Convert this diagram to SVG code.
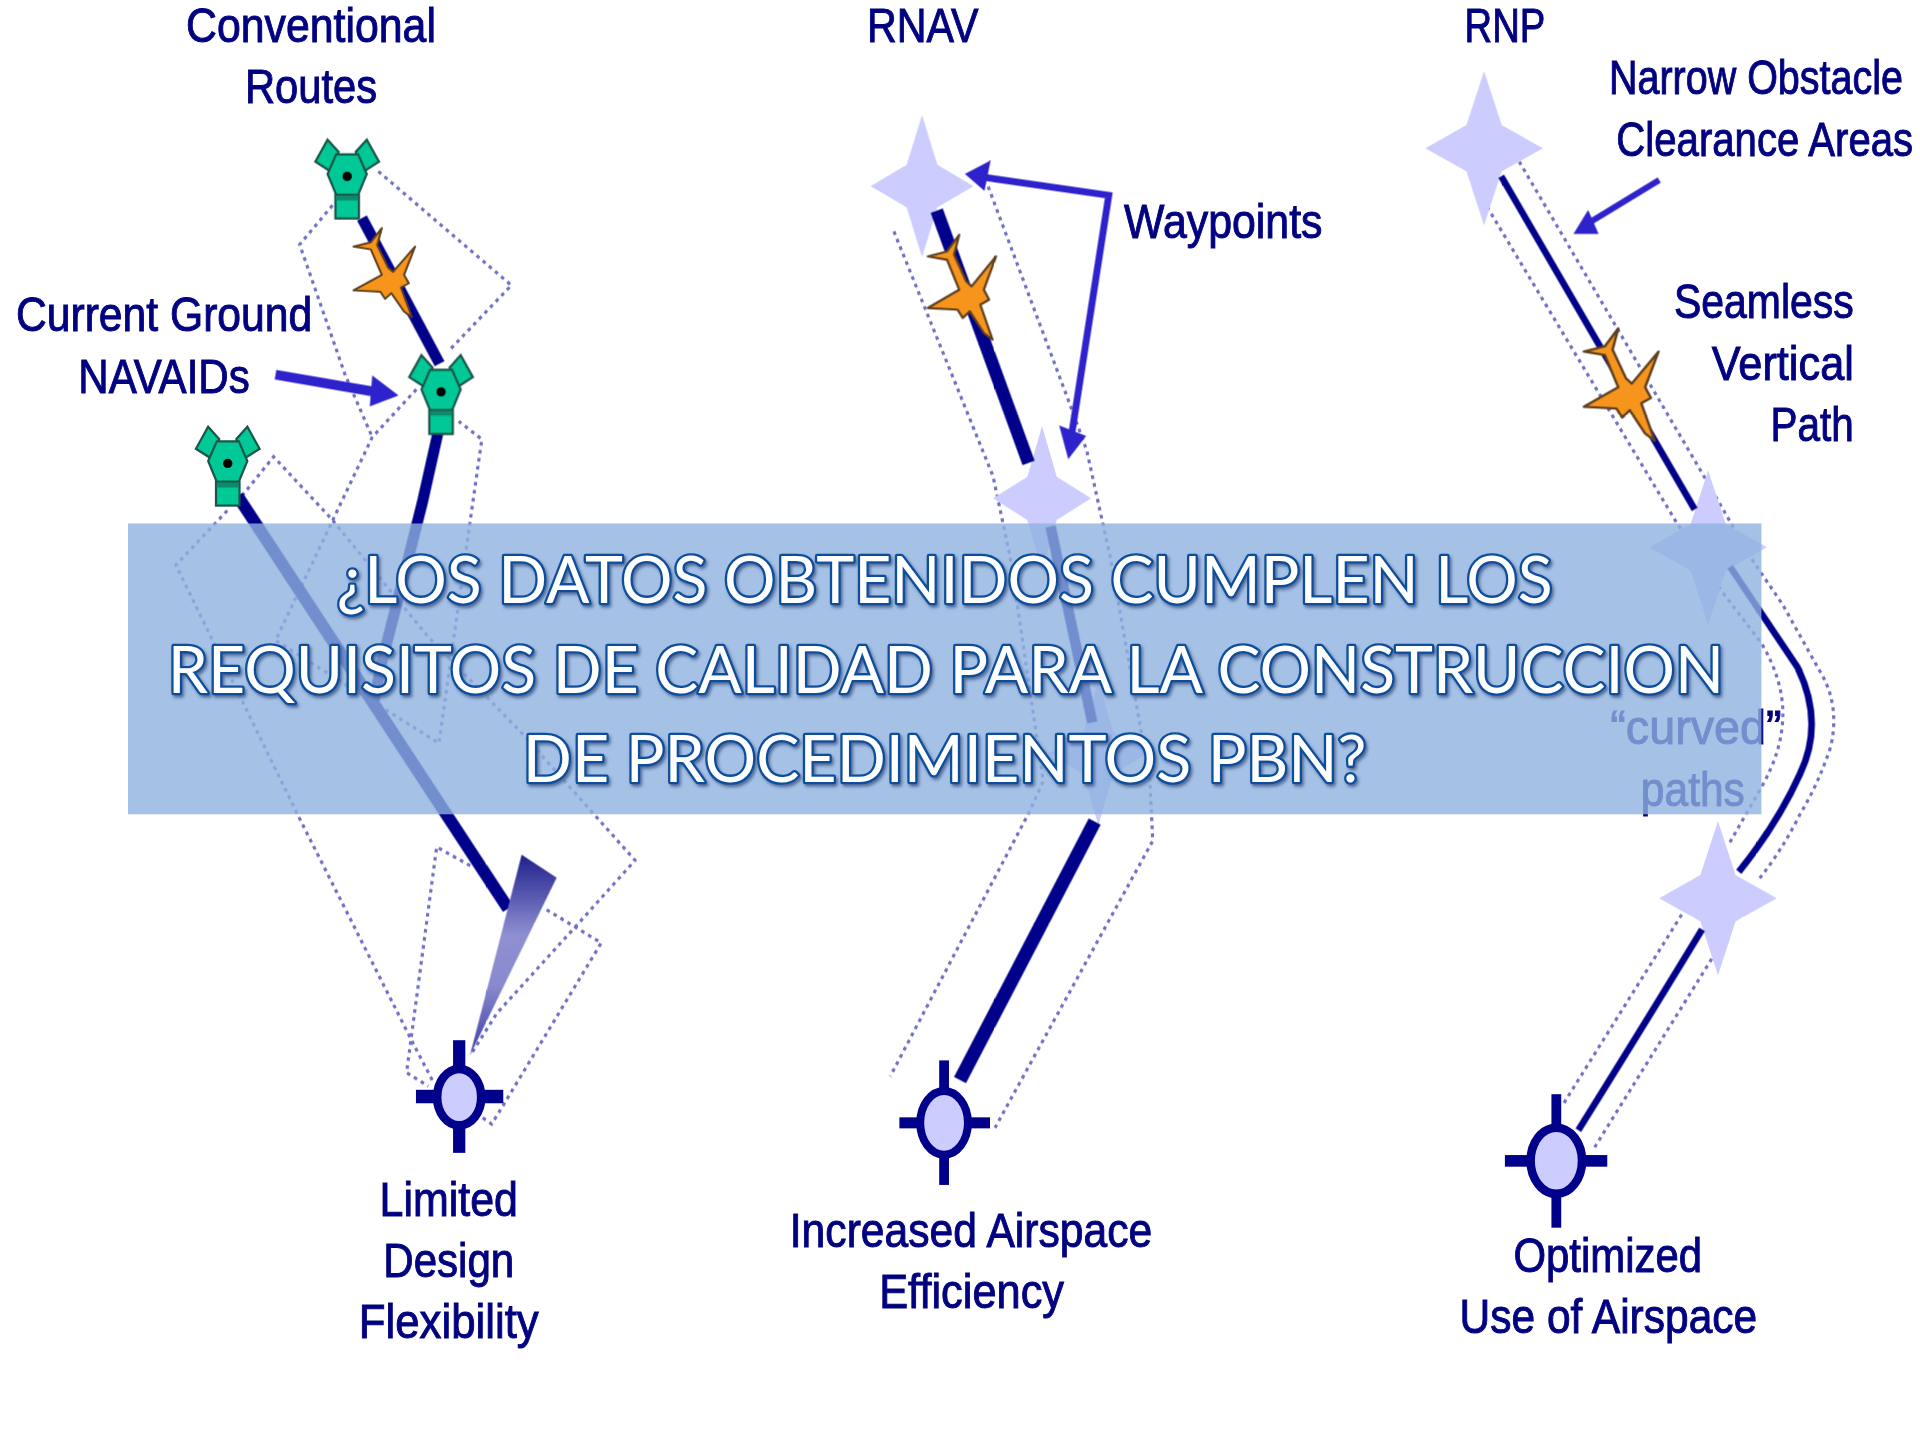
<svg xmlns="http://www.w3.org/2000/svg" xmlns:xlink="http://www.w3.org/1999/xlink" width="1920" height="1440" viewBox="0 0 1920 1440">
<style>
.lbl{font-family:"Liberation Sans",Arial,sans-serif;font-size:40px;fill:#000080;stroke:#000080;stroke-width:.8px}
.ban{font-family:Lato,"Open Sans",sans-serif;font-size:53px;font-weight:400;fill:#fff;stroke:#0b4d9b;stroke-width:3.8px;paint-order:stroke;stroke-linejoin:round;text-anchor:start}
.dot{fill:none;stroke:#6f6fc4;stroke-width:2.6;stroke-dasharray:3 3.6}
.trk{fill:none;stroke:#00008b}
.arw{fill:none;stroke:#2f24cc;stroke-linejoin:miter}
.arh{fill:#2f24cc}
.star{fill:#ccccff}
.apt{fill:#ccccff;stroke:#00008b}
.arm{fill:#00008b}
.g{fill:#00c896;stroke:#1a5548;stroke-width:1.8}
.p{fill:#f7941e;stroke:#5e4020;stroke-width:1.8;stroke-linejoin:round}
</style>
<defs>
<g id="nav">
<polygon class="g" points="-16,-30 -7,-20 -12,-3 -26,-12"/>
<polygon class="g" points="16,-30 7,-20 12,-3 26,-12"/>
<polygon class="g" points="-9,-18 9,-18 16,-2 9,15 -9,15 -16,-2"/>
<rect class="g" x="-9.6" y="15" width="19.2" height="19.4"/>
<rect x="-9" y="15.6" width="18" height="4" fill="#0a8a6c"/>
<circle r="3.8" fill="#000"/>
</g>
<polygon id="pln" class="p" points="-8.2,-50.3 -12.2,-34 -2.7,-12.2 1.4,-8.2 20.4,-32.6 10.9,-5.4 15,2.7 8.2,6.8 17.7,35.4 10.9,29.9 0,12.2 -5.4,17.7 -9.5,10.9 -32.6,9.5 -8.2,-5.4 -17.7,-29.9 -32.6,-32.6 -17.7,-36.7"/>
<polygon id="st" class="star" points="0,-1 .3,-.3 1,0 .3,.3 0,1 -.3,.3 -1,0 -.3,-.3"/>
<linearGradient id="wg" x1="0" y1="0" x2="0" y2="1">
<stop offset="0" stop-color="#20208c"/><stop offset=".4" stop-color="#8f8fd2"/><stop offset=".65" stop-color="#8a8ace"/><stop offset="1" stop-color="#3c3ca8"/>
</linearGradient>
<filter id="soft" filterUnits="userSpaceOnUse" x="0" y="0" width="1568" height="1176"><feGaussianBlur stdDeviation=".5"/></filter>
<filter id="sh" x="-5%" y="-20%" width="110%" height="140%"><feDropShadow dx="1.5" dy="2" stdDeviation="1.2" flood-color="#24406e" flood-opacity=".65"/></filter>
</defs>
<rect width="1920" height="1440" fill="#fff"/>
<g transform="scale(1.22449)">
<g id="picture" filter="url(#soft)">
<g id="connectors">
<g id="dotted">
<polyline class="dot" points="309,140 417.6,233 366,287"/>
<polyline class="dot" points="271.5,167.7 244.7,199.7 281.8,306 304,357"/>
<polyline class="dot" points="340,318 304,357 225,523 358.5,607 386,411 393.5,358.7 374.6,344"/>
<polyline class="dot" points="197.6,405 223.4,373 270,423 349.6,520 426.4,599 518.6,702.6 471,755.6 405.6,827.7 384,862"/>
<polyline class="dot" points="185.6,417 143.6,461.4 243.9,667 337.6,852.6 354,884"/>
<polyline class="dot" points="384,707 356.6,691.7 337.6,834 332,876 349.7,887"/>
<polyline class="dot" points="446.4,743 491,770 411,902.6 401.5,918 393,912"/>
<polyline class="dot" points="730,189 811,389 825,455 852,638 839.6,665 727,879"/>
<polyline class="dot" points="807,152.4 872.4,326.7 887.4,367.5 906.6,454.6 939,637 941.4,686.6 812.6,921"/>
<path class="dot" d="M1214.5 169L1369 426.5L1407 484L1438.7 525.6Q1456 555 1456 583Q1456 612 1438.7 642.4L1411.5 690"/>
<path class="dot" d="M1240.7 132L1392.4 390.4L1430.5 456.5L1456 494L1490 555Q1502 580 1495 610Q1485 640 1470 665Q1455 695 1435.8 718.7"/>
<polyline class="dot" points="1373.3,747 1276.7,901.6"/>
<polyline class="dot" points="1397.9,783 1301,939"/>
</g>
<g id="stars-under">
<use xlink:href="#st" href="#st" transform="translate(753,152) scale(42,58)"/>
<use xlink:href="#st" href="#st" transform="translate(851,407) scale(40,59)"/>
<use xlink:href="#st" href="#st" transform="translate(897,615) scale(40,59)"/>
<use xlink:href="#st" href="#st" transform="translate(1212,121) scale(48,63)"/>
<use xlink:href="#st" href="#st" transform="translate(1395,447) scale(48,63)"/>
<use xlink:href="#st" href="#st" transform="translate(1403,733.5) scale(48,63)"/>
</g>
<g id="tracks">
<line class="trk" stroke-width="9" x1="295.6" y1="178" x2="359" y2="297"/>
<path class="trk" stroke-width="9" d="M358 352L345 410Q325 490 312 540L305 575"/>
<line class="trk" stroke-width="10" x1="194" y1="405" x2="415" y2="742"/>
<line class="trk" stroke-width="10.5" x1="765" y1="172" x2="840" y2="378"/>
<line class="trk" stroke-width="8.5" x1="858" y1="430" x2="892" y2="590"/>
<line class="trk" stroke-width="11" x1="894" y1="671" x2="784" y2="882"/>
<line class="trk" stroke-width="5.4" x1="1226" y1="144" x2="1384" y2="416"/>
<path class="trk" stroke-width="5.4" d="M1413 463L1468 545Q1490 590 1470 632Q1452 672 1420 712"/>
<path class="trk" stroke-width="5.4" d="M1390 759Q1350 825 1289 923"/>
</g>
<polygon id="wedge" fill="url(#wg)" points="426,698 454.6,716.7 383.8,862"/>
<g id="arrows">
<polyline class="arw" stroke-width="5.6" points="798,144 905.5,159.5 875,356"/>
<polygon class="arh" points="788,142 809,131 804,156"/>
<polygon class="arh" points="872.4,375 865,347.5 887,356"/>
<line class="arw" stroke-width="8" x1="225" y1="306" x2="312" y2="321"/>
<polygon class="arh" points="325.5,323 304,306.5 302,332"/>
<line class="arw" stroke-width="5" x1="1355" y1="147" x2="1296" y2="183"/>
<polygon class="arh" points="1285,191 1297,171.5 1305.5,191"/>
</g>
</g>
<g id="nav-1"><use xlink:href="#nav" href="#nav" transform="translate(283.5,144)"/></g>
<g id="nav-2"><use xlink:href="#nav" href="#nav" transform="translate(360.2,320)"/></g>
<g id="nav-3"><use xlink:href="#nav" href="#nav" transform="translate(186,378.5)"/></g>
<g id="plane-1"><use xlink:href="#pln" href="#pln" transform="translate(319.6,229) scale(.95,.85)"/></g>
<g id="plane-2"><use xlink:href="#pln" href="#pln" transform="translate(792,242) scale(1.05,1)"/></g>
<g id="plane-3"><use xlink:href="#pln" href="#pln" transform="translate(1331,322) scale(1.15,1.07)"/></g>
<g id="airport-1">
<rect class="arm" x="370" y="849.5" width="10" height="92"/><rect class="arm" x="339.7" y="890" width="71.3" height="11"/>
<ellipse class="apt" cx="375" cy="896" rx="18" ry="23" stroke-width="7"/>
</g>
<g id="airport-2">
<rect class="arm" x="767" y="866" width="8" height="101.7"/><rect class="arm" x="734.5" y="912.5" width="74" height="9"/>
<ellipse class="apt" cx="771" cy="917" rx="19.5" ry="26" stroke-width="6.5"/>
</g>
<g id="airport-3">
<rect class="arm" x="1267" y="893.6" width="8" height="109"/><rect class="arm" x="1229" y="943.3" width="83.6" height="9.5"/>
<ellipse class="apt" cx="1271" cy="948" rx="21" ry="27" stroke-width="7"/>
</g>
<g id="labels">
<text class="lbl" x="152" y="34" textLength="204" lengthAdjust="spacingAndGlyphs">Conventional</text>
<text class="lbl" x="200" y="84" textLength="108" lengthAdjust="spacingAndGlyphs">Routes</text>
<text class="lbl" x="708" y="34" textLength="91" lengthAdjust="spacingAndGlyphs">RNAV</text>
<text class="lbl" x="1196" y="34" textLength="66" lengthAdjust="spacingAndGlyphs">RNP</text>
<text class="lbl" transform="translate(1314,77) scale(.806,1)">Narrow Obstacle</text>
<text class="lbl" transform="translate(1320,127) scale(.82,1)">Clearance Areas</text>
<text class="lbl" x="13" y="270" textLength="242" lengthAdjust="spacingAndGlyphs">Current Ground</text>
<text class="lbl" x="64" y="321" textLength="140" lengthAdjust="spacingAndGlyphs">NAVAIDs</text>
<text class="lbl" x="918" y="194" textLength="162" lengthAdjust="spacingAndGlyphs">Waypoints</text>
<text class="lbl" x="1367" y="260" textLength="147" lengthAdjust="spacingAndGlyphs">Seamless</text>
<text class="lbl" x="1398" y="310" textLength="116" lengthAdjust="spacingAndGlyphs">Vertical</text>
<text class="lbl" x="1446" y="360" textLength="68" lengthAdjust="spacingAndGlyphs">Path</text>
<text class="lbl" x="1315" y="608" textLength="140" lengthAdjust="spacingAndGlyphs">“curved”</text>
<text class="lbl" x="1340" y="658" textLength="85" lengthAdjust="spacingAndGlyphs">paths</text>
<text class="lbl" x="310" y="993" textLength="113" lengthAdjust="spacingAndGlyphs">Limited</text>
<text class="lbl" x="313" y="1043" textLength="107" lengthAdjust="spacingAndGlyphs">Design</text>
<text class="lbl" x="293" y="1093" textLength="147" lengthAdjust="spacingAndGlyphs">Flexibility</text>
<text class="lbl" x="645" y="1018" textLength="296" lengthAdjust="spacingAndGlyphs">Increased Airspace</text>
<text class="lbl" x="718" y="1068" textLength="151" lengthAdjust="spacingAndGlyphs">Efficiency</text>
<text class="lbl" x="1236" y="1039" textLength="154" lengthAdjust="spacingAndGlyphs">Optimized</text>
<text class="lbl" x="1192" y="1089" textLength="243" lengthAdjust="spacingAndGlyphs">Use of Airspace</text>
</g>
</g>
<g id="banner">
<rect x="104.5" y="427.5" width="1334" height="237.5" fill="#8fb2e0" fill-opacity=".8"/>
<g filter="url(#sh)">
<text class="ban" x="275" y="492.5" textLength="993" lengthAdjust="spacingAndGlyphs">¿LOS DATOS OBTENIDOS CUMPLEN LOS</text>
<text class="ban" x="137" y="565.7" textLength="1271" lengthAdjust="spacingAndGlyphs">REQUISITOS DE CALIDAD PARA LA CONSTRUCCION</text>
<text class="ban" x="427" y="639" textLength="689" lengthAdjust="spacingAndGlyphs">DE PROCEDIMIENTOS PBN?</text>
</g>
</g>
</g>
</svg>
